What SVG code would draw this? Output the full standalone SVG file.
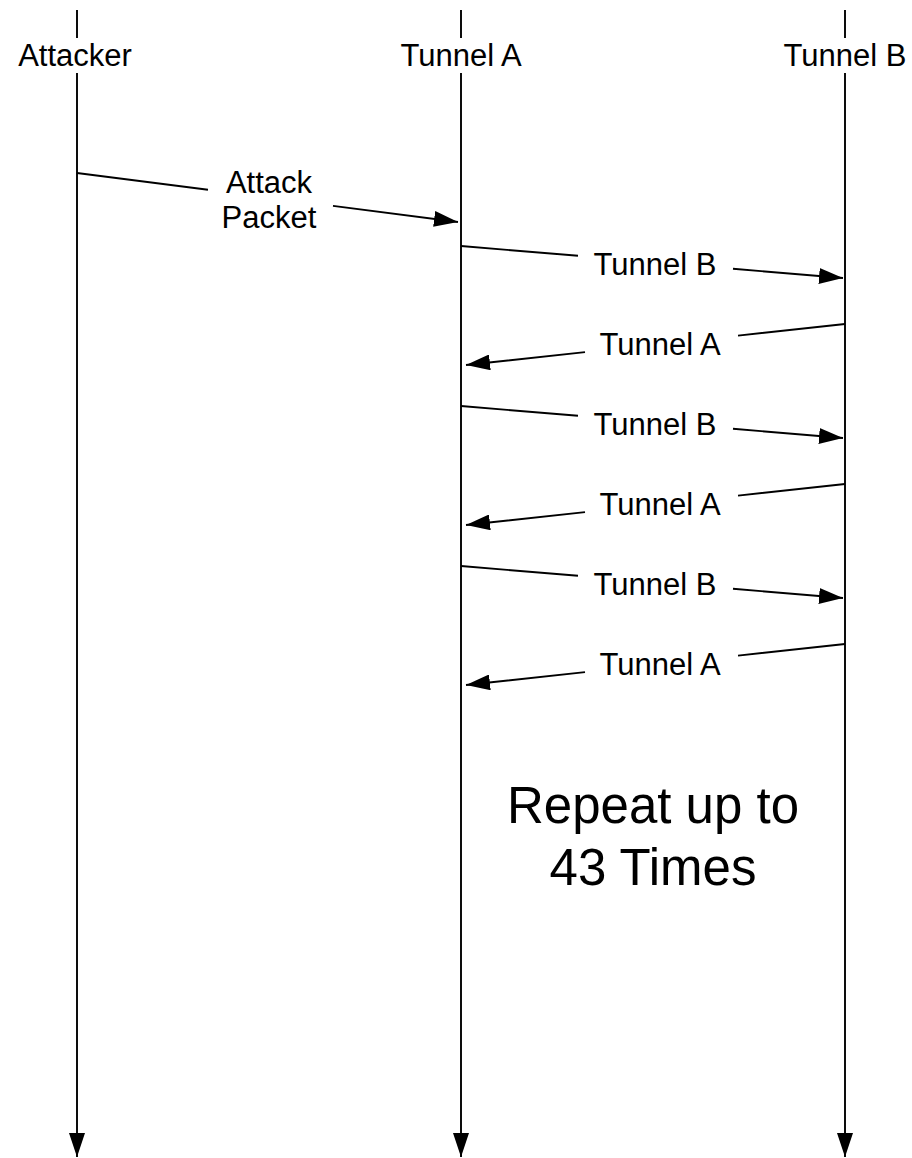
<svg xmlns="http://www.w3.org/2000/svg" width="912" height="1158" viewBox="0 0 912 1158">
<style>
.lbl{font-family:"Liberation Sans",Arial,sans-serif;font-size:31px;fill:#000;text-anchor:middle}
.big{font-family:"Liberation Sans",Arial,sans-serif;font-size:51px;fill:#000;text-anchor:middle}
.ln{stroke:#000;stroke-width:1.9;fill:none}
</style>
<defs>
<marker id="ah" markerUnits="userSpaceOnUse" markerWidth="24" markerHeight="16" viewBox="0 0 24 16" refX="24" refY="8" orient="auto">
<path d="M0,0 L24,8 L0,16 Z" fill="#000"/>
</marker>
</defs>
<rect width="912" height="1158" fill="#fff"/>
<g id="attacker">
<line class="ln" x1="77" y1="10" x2="77" y2="38"/>
<text class="lbl" x="75" y="66">Attacker</text>
<line class="ln" x1="77" y1="73" x2="77" y2="1157" marker-end="url(#ah)"/>
</g>
<g id="tunnelA">
<line class="ln" x1="461" y1="10" x2="461" y2="38"/>
<text class="lbl" x="461" y="66">Tunnel A</text>
<line class="ln" x1="461" y1="73" x2="461" y2="1157" marker-end="url(#ah)"/>
</g>
<g id="tunnelB">
<line class="ln" x1="845" y1="10" x2="845" y2="38"/>
<text class="lbl" x="845" y="66">Tunnel B</text>
<line class="ln" x1="845" y1="73" x2="845" y2="1157" marker-end="url(#ah)"/>
</g>
<g id="connectors">
<path class="ln" d="M77,173 L208,189.8 M333,205.9 L458,222" marker-end="url(#ah)"/>
<path class="ln" d="M461,246 L578,255.8 M733,268.8 L843,278" marker-end="url(#ah)"/>
<path class="ln" d="M845,324 L738,335.6 M585,352.1 L466,365" marker-end="url(#ah)"/>
<path class="ln" d="M461,406 L578,415.8 M733,428.8 L843,438" marker-end="url(#ah)"/>
<path class="ln" d="M845,484 L738,495.6 M585,512.1 L466,525" marker-end="url(#ah)"/>
<path class="ln" d="M461,566 L578,575.8 M733,588.8 L843,598" marker-end="url(#ah)"/>
<path class="ln" d="M845,644 L738,655.6 M585,672.1 L466,685" marker-end="url(#ah)"/>
</g>
<g id="labels">
<text class="lbl" x="269" y="193">Attack</text>
<text class="lbl" x="269" y="228">Packet</text>
<text class="lbl" x="655" y="275">Tunnel B</text>
<text class="lbl" x="660" y="355">Tunnel A</text>
<text class="lbl" x="655" y="435">Tunnel B</text>
<text class="lbl" x="660" y="515">Tunnel A</text>
<text class="lbl" x="655" y="595">Tunnel B</text>
<text class="lbl" x="660" y="675">Tunnel A</text>
</g>
<g id="note">
<text class="big" x="653" y="823">Repeat up to</text>
<text class="big" x="653" y="885">43 Times</text>
</g>
</svg>
